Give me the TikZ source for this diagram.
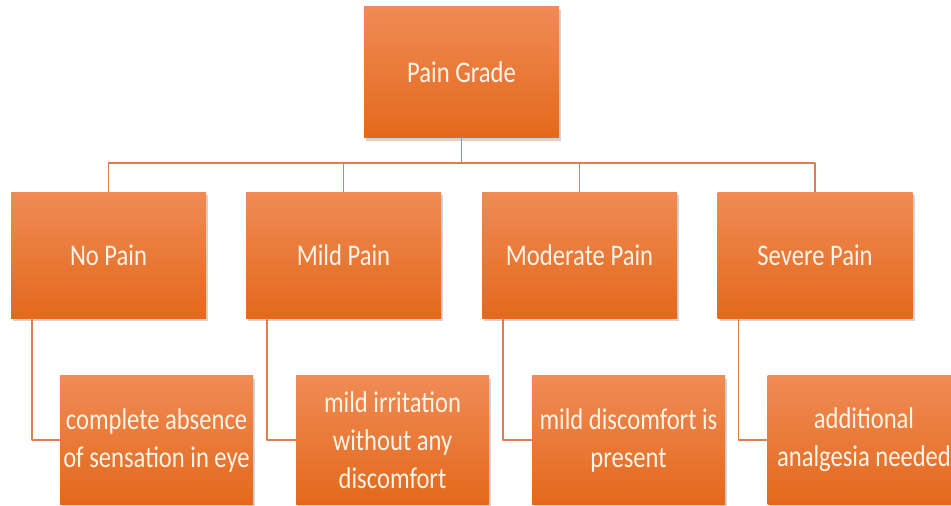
\documentclass[tikz,border=0pt]{standalone}
\usepackage{fontspec}
\setmainfont{Carlito}[FakeStretch=0.82]
\usetikzlibrary{shadows}
\definecolor{boxtop}{HTML}{F08B55}
\definecolor{boxmid}{HTML}{F47A2A}
\definecolor{boxbottom}{HTML}{E3691B}
\definecolor{linkline}{HTML}{D5824C}
\definecolor{boxtext}{HTML}{FFF4EA}
\begin{document}
\begin{tikzpicture}[x=1pt, y=-1pt, line join=round,
		gradebox/.style={top color=boxtop, middle color=boxmid, bottom color=boxbottom,
			drop shadow={opacity=0.35, shadow xshift=2pt, shadow yshift=-3pt},
			text=boxtext, minimum width=195pt, minimum height=126pt, inner sep=2pt,
			align=center, font=\fontsize{30}{38}\selectfont},
		link/.style={draw=linkline, line width=1.5pt}]
		\useasboundingbox (0,0) rectangle (951,506);
		% top and second level
		\node[gradebox, minimum height=131pt] (grade) at (461.5,72) {Pain Grade};
		\node[gradebox] (none) at (108.5,255) {No Pain};
		\node[gradebox] (mild) at (343.5,255) {Mild Pain};
		\node[gradebox] (moderate) at (579.5,255) {Moderate Pain};
		\node[gradebox] (severe) at (815,255) {Severe Pain};
		% descriptions
		\node[gradebox, minimum width=193pt, minimum height=129pt] (noneDesc) at (156.5,440) {complete absence\\of sensation in eye};
		\node[gradebox, minimum width=193pt, minimum height=129pt] (mildDesc) at (392.5,440) {mild irritation\\without any\\discomfort};
		\node[gradebox, minimum width=193pt, minimum height=129pt] (moderateDesc) at (628.5,440) {mild discomfort is\\present};
		\node[gradebox, minimum width=193pt, minimum height=129pt] (severeDesc) at (864,440) {additional\\analgesia needed};
		\coordinate (bus) at (461.5,163);
		\draw[link] (grade.south) -- (bus);
		\foreach \n in {none, mild, moderate, severe}
		\draw[link] (bus) -| (\n.north);
		\foreach \n in {none, mild, moderate, severe}
		\draw[link] ([xshift=-76.5pt]\n.south) |- (\n Desc.west);
	\end{tikzpicture}
\end{document}
